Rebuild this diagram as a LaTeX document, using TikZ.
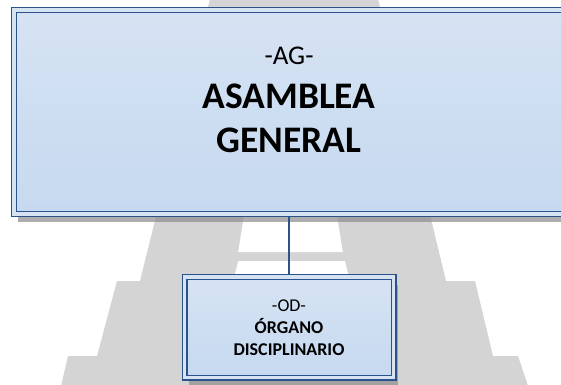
\documentclass[tikz,border=0pt]{standalone}
\usepackage{fontspec}
\setmainfont{Carlito}
\usetikzlibrary{shadows}

\definecolor{boxline}{RGB}{44,82,140}
\definecolor{boxtop}{RGB}{214,227,243}
\definecolor{boxbot}{RGB}{198,217,240}
\definecolor{towergray}{RGB}{212,212,212}

\begin{document}
\begin{tikzpicture}[x=1pt, y=-1pt, thick]
		\tikzstyle{orgbox}=[draw=boxline, line width=1.2pt, double=boxtop, double distance=3.6pt, top color=boxtop, bottom color=boxbot, inner sep=0pt, outer sep=3pt, drop shadow={shadow xshift=4pt, shadow yshift=-8pt, fill=black!45, opacity=0.7}]
		\tikzstyle{tower}=[fill=towergray, draw=none]
		
		\useasboundingbox (0,0) rectangle (561,384);
		\clip (0,0) rectangle (561,384);
		
		% watermark behind the chart
		\fill[tower] (210,-1) -- (140,281) -- (117,281) -- (97,356) -- (68,356) -- (61,386)
			-- (528,386) -- (518,356) -- (493,356) -- (475,281) -- (446,281) -- (378,-1) -- cycle;
		\fill[white] (246.5,200) -- (238.2,252) -- (342.8,252) -- (334.5,200) -- cycle;
		\fill[white] (238.2,261) -- (228.5,300) -- (354.7,300) -- (345,261) -- cycle;
		
		\node[orgbox, minimum width=620pt, minimum height=204pt] at (324,112) (AG) {};
		\node[font=\fontsize{37.5}{44}\selectfont\bfseries, align=center, anchor=base] at (289,152) (AGtext)
			{{\mdseries\fontsize{27}{44}\selectfont -AG-}\\ ASAMBLEA\\ GENERAL};
		\node[orgbox, minimum width=209pt, minimum height=100.5pt, font=\fontsize{18}{22}\selectfont\bfseries, align=center] at (289,327.25) (OD)
			{{\mdseries -OD-}\\ ÓRGANO\\ DISCIPLINARIO};
		
		\path
		(OD.north) edge[draw=boxline, line width=2.2pt] (OD.north |- AG.south);
	\end{tikzpicture}
\end{document}
